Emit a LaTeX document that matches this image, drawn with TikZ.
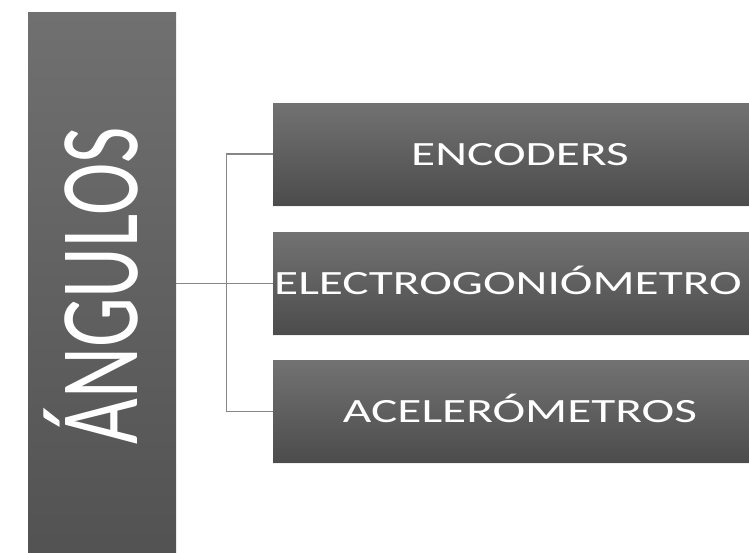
\documentclass[tikz,border=0pt]{standalone}
\usepackage{fontspec}
\setmainfont{Carlito}
\usepackage{graphicx}
\usetikzlibrary{positioning}
\usetikzlibrary{shadows}

\definecolor{boxtop}{RGB}{114,114,114}
\definecolor{boxbot}{RGB}{76,76,76}
\definecolor{bartop}{RGB}{112,112,112}
\definecolor{barbot}{RGB}{82,82,82}
\definecolor{linkgray}{RGB}{135,135,135}

\newcommand{\widetext}[1]{\scalebox{1.45}[1]{#1}}

\tikzset{
	greybox/.style={rectangle, inner sep=0pt, minimum width=494pt, minimum height=102pt,
		top color=boxtop, bottom color=boxbot, text=white,
		text height=22pt, text depth=0pt, font=\fontsize{34}{40}\selectfont,
		drop shadow={opacity=0.12, shadow xshift=0pt, shadow yshift=-1.5pt}},
	barbox/.style={rectangle, inner sep=0pt, minimum width=148pt, minimum height=548pt,
		top color=bartop, bottom color=barbot, text=white, font=\fontsize{79}{90}\selectfont,
		drop shadow={opacity=0.12, shadow xshift=0pt, shadow yshift=-1.5pt}},
	link/.style={draw=linkgray, line width=1.2pt}
}

\begin{document}
\begin{tikzpicture}[x=1pt, y=-1pt]
	\clip (0,0) rectangle (749,552);
	\fill[white] (0,0) rectangle (749,552);
	
	\node[barbox] (angulos) at (102,286) {\rotatebox{90}{\scalebox{1}[1.42]{\smash{ÁNGULOS}\vphantom{A}}}};
	
	\node[greybox] (enc) at (520,154) {\widetext{ENCODERS}};
	\node[greybox] (elec) at (520,283.5) {\kern-24pt\widetext{ELECTROGONIÓMETRO}};
	\node[greybox] (acel) at (520,411.5) {\widetext{ACELERÓMETROS}};
	
	\draw[link] (angulos.east |- elec.west) -- (elec.west);
	\draw[link] (enc.west) -- ++(-46,0) |- (acel.west);
\end{tikzpicture}
\end{document}
